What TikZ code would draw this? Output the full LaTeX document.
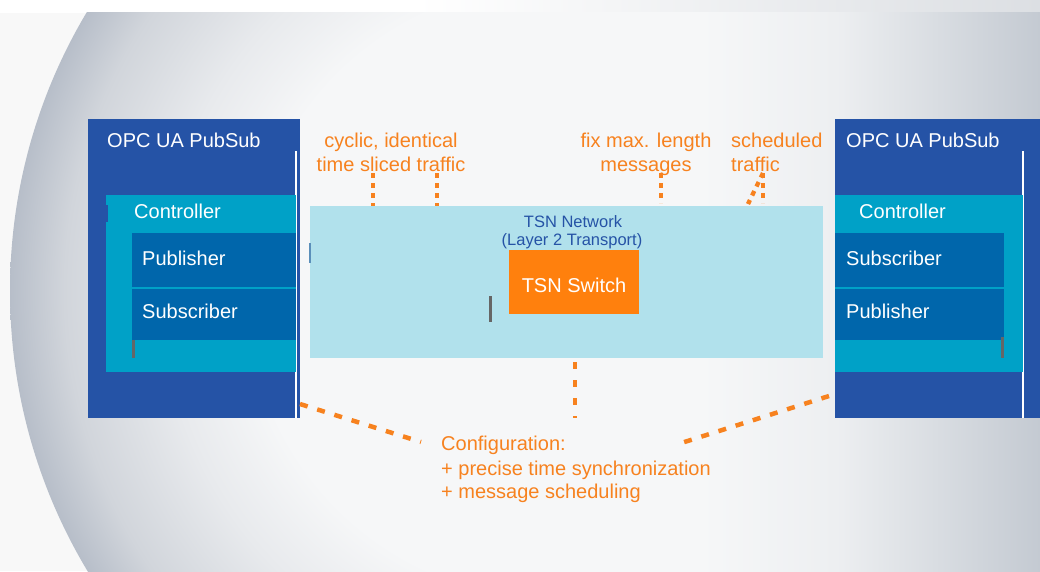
\documentclass[tikz,border=0pt]{standalone}
\usepackage{fontspec}
\setmainfont{Liberation Sans}
\definecolor{opcblue}{HTML}{2553A6}
\definecolor{ctrlcyan}{HTML}{00A1C7}
\definecolor{roleblue}{HTML}{0066AB}
\definecolor{netblue}{HTML}{B1E1EC}
\definecolor{swtorange}{HTML}{FF800D}
\definecolor{txtorange}{HTML}{F7821F}
\definecolor{bargray}{HTML}{666666}
\definecolor{tickblue}{HTML}{5B8FBA}
\definecolor{sheet}{HTML}{F8F8F8}
\definecolor{bgin}{HTML}{F6F7F8}
\definecolor{bgmid}{HTML}{E8EAED}
\definecolor{bgdeep}{HTML}{D1D5DB}
\definecolor{bgout}{HTML}{B7BEC9}
\definecolor{bgright}{HTML}{EDEFF1}
\definecolor{bgrim}{HTML}{C4CAD2}
\definecolor{topstrip}{HTML}{DCDFE3}
% the disc edge sits at 25bp of the shading
\pgfdeclareradialshading{bgshade}{\pgfpoint{0bp}{0bp}}{%
  color(0bp)=(bgin); color(14bp)=(bgin); color(18bp)=(bgmid);
  color(22.5bp)=(bgdeep); color(25bp)=(bgout); color(50bp)=(bgout)}
% right half of the backdrop, darkening towards the right edge
\pgfdeclarehorizontalshading{rshade}{100bp}{%
  color(0bp)=(bgin); color(40bp)=(bgin); color(54bp)=(bgright);
  color(75bp)=(bgrim); color(100bp)=(bgrim)}
\pgfdeclarehorizontalshading{tshade}{100bp}{%
  color(0bp)=(white); color(45bp)=(white); color(75bp)=(topstrip);
  color(100bp)=(topstrip)}
\tikzset{
  box/.style={inner sep=0pt, outer sep=0pt, anchor=north west},
  wlabel/.style={inner sep=0pt, anchor=base west, text=white,
    font=\fontsize{20}{24}\selectfont},
  olabel/.style={inner sep=0pt, text=txtorange, align=center,
    font=\fontsize{20}{24}\selectfont},
  nlabel/.style={inner sep=0pt, text=opcblue, align=center,
    font=\fontsize{16.5}{16}\selectfont},
  shortdots/.style={draw=txtorange, line width=4.3pt, dash pattern=on 5pt off 5pt},
  longdots/.style={draw=txtorange, line width=4.5pt, dash pattern=on 8pt off 10pt},
}
\newcommand{\blk}[6]{% name, colour, x1, y1, x2, y2
  \node[box, fill=#2, minimum width={(#5)-(#3)}, minimum height={(#6)-(#4)}]
    (#1) at (#3,#4) {};}
\begin{document}
\begin{tikzpicture}[x=1pt,y=-1pt]
\useasboundingbox (0,0) rectangle (1040,571);
% backdrop: light sheet, shaded disc on the left, shaded band on the right
\fill[sheet] (0,0) rectangle (1040,571);
\path[shading=tshade] (0,0) rectangle (1040,12);
\begin{scope}
  \clip (0,12) rectangle (1040,571);
  \path[shading=bgshade] (554,291) circle [radius=544];
\end{scope}
\path[shading=rshade] (554,12) rectangle (1040,571);

% left device
\blk{lopc}{opcblue}{88}{119}{300}{418}
\draw[white, line width=1.2pt] (296,151) -- (296,418);
\blk{lctrl}{ctrlcyan}{106}{195}{296}{372}
\blk{ltick}{opcblue}{105}{205}{107.5}{222}
\blk{lpub}{roleblue}{132}{233}{296}{287}
\blk{lsub}{roleblue}{132}{289}{296}{340}
\blk{lbar}{bargray}{132}{340}{135}{358}
\node[wlabel] (lopct) at (107,147) {OPC UA PubSub};
\node[wlabel] (lctrlt) at (134,218) {Controller};
\node[wlabel] (lpubt) at (142,265) {Publisher};
\node[wlabel] (lsubt) at (142,318) {Subscriber};

% right device
\blk{ropc}{opcblue}{835}{119}{1040}{418}
\draw[white, line width=1.2pt] (1023,151) -- (1023,418);
\blk{rctrl}{ctrlcyan}{835}{195}{1023}{372}
\blk{rsub}{roleblue}{835}{233}{1004}{287}
\blk{rpub}{roleblue}{835}{289}{1004}{340}
\blk{rbar}{bargray}{1001}{337}{1004}{358}
\node[wlabel] (ropct) at (846,147) {OPC UA PubSub};
\node[wlabel] (rctrlt) at (859,218) {Controller};
\node[wlabel] (rsubt) at (846,265) {Subscriber};
\node[wlabel] (rpubt) at (846,318) {Publisher};

% network and switch
\blk{net}{netblue}{310}{206}{823}{358}
\blk{ntick}{tickblue}{308.5}{243}{310.5}{263}
\blk{swt}{swtorange}{509}{250}{639}{314}
\blk{sbar}{bargray}{489}{296}{492}{322}
\node[nlabel, anchor=base] (nett) at (573,227.5) {TSN Network};
\node[nlabel, anchor=base] (nett2) at (572,245) {(Layer 2 Transport)};
\node[wlabel, anchor=base] (swtt) at (574,292) {TSN Switch};

% traffic properties
\node[olabel, anchor=base] (cyc) at (391,147) {cyclic, identical};
\node[olabel, anchor=base] (cyc2) at (391,171) {time sliced traffic};
\node[olabel, anchor=base] (fix) at (646,147) {fix max. length};
\node[olabel, anchor=base] (fix2) at (646,171) {messages};
\node[olabel, anchor=base west] (sch) at (731,147) {scheduled};
\node[olabel, anchor=base west] (sch2) at (731,171) {traffic};

\coordinate (d1) at (373,173);
\coordinate (d2) at (437,173);
\coordinate (d3) at (661,173);
\coordinate (d4) at (763,173);
\coordinate (d5) at (748,204);
\draw[shortdots] (d1) -- (d1 |- net.north);
\draw[shortdots] (d2) -- (d2 |- net.north);
\draw[shortdots] (d3) -- (661,203);
\draw[shortdots] (d4) -- (763,203);
\draw[shortdots] (d4) -- (d5);

% configuration
\node[olabel, anchor=base west, align=left] (cfg) at (441,450) {Configuration:};
\node[olabel, anchor=base west] (cfg2) at (441,475) {+ precise time synchronization};
\node[olabel, anchor=base west] (cfg3) at (441,498) {+ message scheduling};
\coordinate (e1) at (575,418);
\coordinate (e2) at (300,404);
\coordinate (e3) at (421,442);
\coordinate (e4) at (829,396);
\coordinate (e5) at (675,445);
\draw[longdots, dash pattern=on 7pt off 11pt] (575,362) -- (e1);
\draw[longdots] (e2) -- (e3);
\draw[longdots] (e4) -- (e5);
\end{tikzpicture}
\end{document}
